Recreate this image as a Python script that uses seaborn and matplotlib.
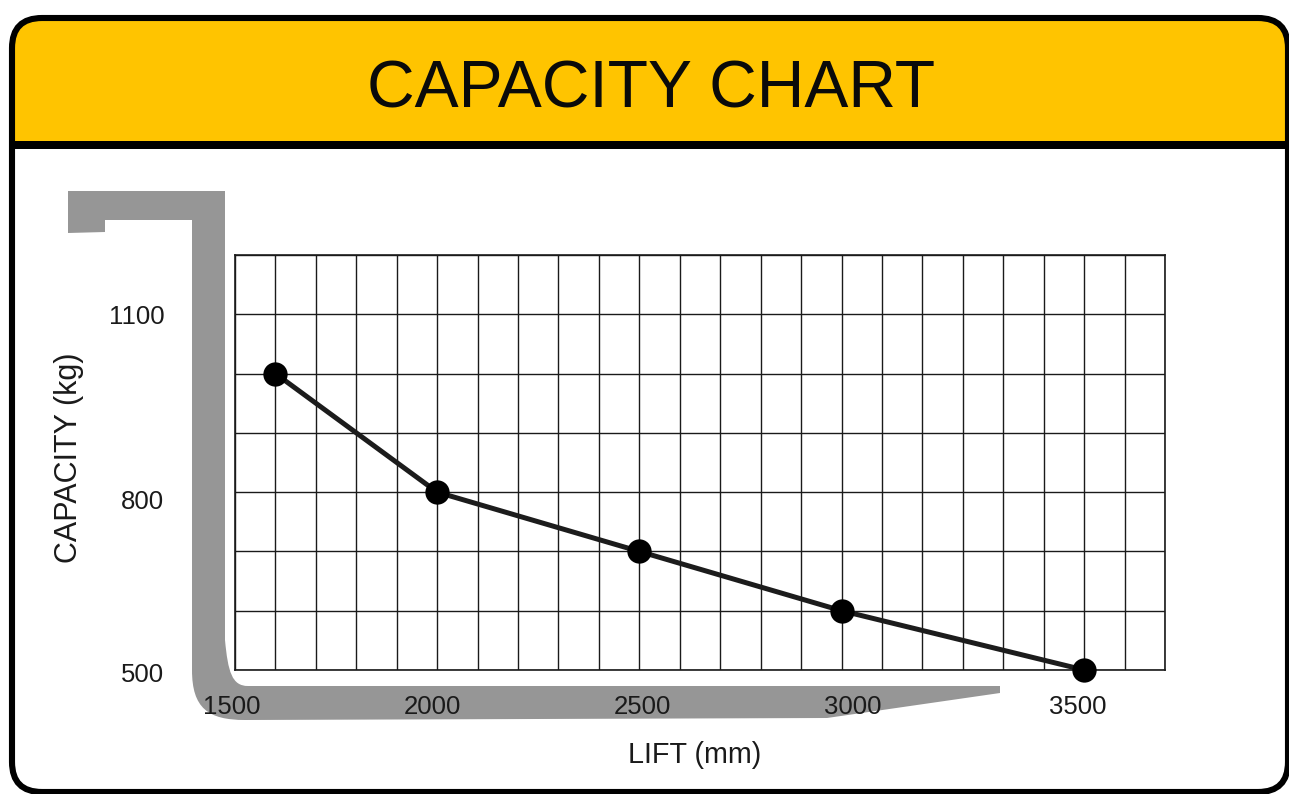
import numpy as np
import pandas as pd
import matplotlib
matplotlib.use("Agg")
import matplotlib.pyplot as plt
from matplotlib.patches import FancyBboxPatch, PathPatch, Rectangle
from matplotlib.path import Path
from matplotlib.transforms import ScaledTranslation
import seaborn as sns

# data (the grid is 100 mm x 100 kg per cell)
lift_mm = [1600, 2000, 2500, 3000, 3600]
capacity_kg = [1000, 800, 700, 600, 500]

x_label_ticks = [1500, 2000, 2500, 3000, 3600]
x_label_text = ["1500", "2000", "2500", "3000", "3500"]
y_label_ticks = [1100, 800, 500]
y_label_text = ["1100", "800", "500"]

# labels sit a little off their grid lines in the original (pixels)
x_label_shift = [-3.5, -5, 3, 11, -6]
y_label_shift = [0, -7, -3]

W, H = 1289, 794
INK = "#1a1a1a"
GREY = "#969696"
YELLOW = "#FFC400"

sns.set_theme(style="white")
plt.rcParams["font.family"] = ["Liberation Sans", "DejaVu Sans"]

fig = plt.figure(figsize=(W / 100, H / 100), dpi=100, facecolor="white")

# ---- background layer in pixel coords: plate, header, fork ----
bg = fig.add_axes([0, 0, 1, 1])
bg.set_xlim(0, W)
bg.set_ylim(H, 0)
bg.axis("off")


def plate(**kw):
    return FancyBboxPatch((12, 18), 1276, 774, boxstyle="round,pad=0,rounding_size=30",
                          mutation_aspect=1, **kw)


bg.add_patch(plate(facecolor="white", edgecolor="none", zorder=1))
header = plate(facecolor=YELLOW, edgecolor="none", zorder=2)
bg.add_patch(header)
header.set_clip_path(Rectangle((0, 0), W, 145, transform=bg.transData))
bg.add_patch(Rectangle((12, 141), 1276, 8, facecolor="black", edgecolor="none", zorder=3))
bg.add_patch(plate(facecolor="none", edgecolor="black", linewidth=4.4, zorder=4))

fork_verts = [
    (68, 191), (225, 191), (225, 640),
    (228, 672), (232, 686), (248, 686),
    (1000, 686), (1000, 693), (827, 718), (245, 720),
    (208, 720), (192, 708), (192, 670),
    (192, 220), (105, 220), (105, 232), (68, 233), (68, 191),
]
fork_codes = [
    Path.MOVETO, Path.LINETO, Path.LINETO,
    Path.CURVE4, Path.CURVE4, Path.CURVE4,
    Path.LINETO, Path.LINETO, Path.LINETO, Path.LINETO,
    Path.CURVE4, Path.CURVE4, Path.CURVE4,
    Path.LINETO, Path.LINETO, Path.LINETO, Path.LINETO, Path.CLOSEPOLY,
]
bg.add_patch(PathPatch(Path(fork_verts, fork_codes), facecolor=GREY, edgecolor="none", zorder=5))

bg.text(651, 107, "CAPACITY CHART", ha="center", va="baseline", fontsize=47.5, color="#0a0a0a", zorder=6)

# ---- the chart itself ----
ax = fig.add_axes([235 / W, 1 - 670 / H, 930 / W, 415 / H], facecolor="none")
df = pd.DataFrame({"lift": lift_mm, "capacity": capacity_kg})
sns.lineplot(data=df, x="lift", y="capacity", ax=ax, color="#1c1c1c", linewidth=3.6,
             marker="o", markersize=17.5, markerfacecolor="black", markeredgewidth=0,
             estimator=None, sort=False, clip_on=False, zorder=5)

ax.set_xlim(1500, 3800)
ax.set_ylim(500, 1200)
ax.set_axisbelow(True)

x_grid = np.arange(1500, 3801, 100)
y_grid = np.arange(500, 1201, 100)
ax.set_xticks(x_grid)
ax.set_yticks(y_grid)
ax.set_xticklabels([x_label_text[x_label_ticks.index(v)] if v in x_label_ticks else "" for v in x_grid])
ax.set_yticklabels([y_label_text[y_label_ticks.index(v)] if v in y_label_ticks else "" for v in y_grid])
ax.grid(True, color=INK, linewidth=1.0)
ax.tick_params(axis="x", length=0, pad=18, labelsize=18.5, labelcolor=INK)
ax.tick_params(axis="y", length=0, pad=51, labelsize=18.5, labelcolor=INK)

for v, lab in zip(x_grid, ax.get_xticklabels()):
    if v in x_label_ticks:
        dx = x_label_shift[x_label_ticks.index(v)]
        lab.set_transform(lab.get_transform() + ScaledTranslation(dx / 100, 0, fig.dpi_scale_trans))
for v, lab in zip(y_grid, ax.get_yticklabels()):
    if v in y_label_ticks:
        dy = y_label_shift[y_label_ticks.index(v)]
        lab.set_transform(lab.get_transform() + ScaledTranslation(0, dy / 100, fig.dpi_scale_trans))

for s in ax.spines.values():
    s.set_visible(True)
    s.set_color(INK)
    s.set_linewidth(1.2)

ax.set_xlabel("LIFT (mm)", fontsize=20.7, color=INK, va="center")
ax.set_ylabel("CAPACITY (kg)", fontsize=22, color=INK, va="center")
ax.xaxis.set_label_coords((695 - 235) / 930, (670 - 755) / 415)
ax.yaxis.set_label_coords((69 - 235) / 930, (670 - 458) / 415)

fig.savefig("out.png", dpi=100)
